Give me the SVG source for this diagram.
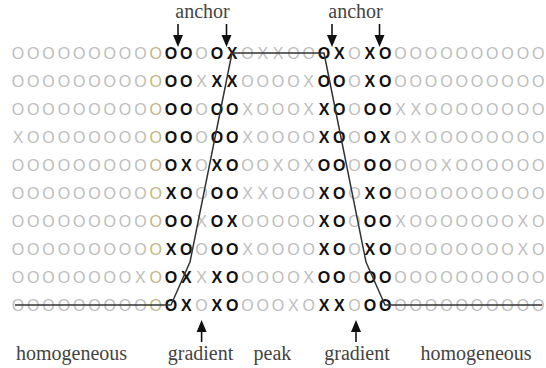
<svg xmlns="http://www.w3.org/2000/svg" width="546" height="368" viewBox="0 0 546 368">
<style>
.g{font-family:"Liberation Sans",Arial,sans-serif;font-size:16px;fill:#bdbdbd;text-anchor:middle}
.t{font-family:"Liberation Sans",Arial,sans-serif;font-size:16px;fill:#c4b586;text-anchor:middle}
.b{font-family:"Liberation Sans",Arial,sans-serif;font-size:16px;font-weight:bold;fill:#111;text-anchor:middle}
.lbl{font-family:"Liberation Serif","Times New Roman",serif;font-size:20px;fill:#444;text-anchor:middle}
.ln{fill:none;stroke:#333;stroke-width:1.5;stroke-linejoin:round}
.ar{stroke:#111;stroke-width:1.6}
.ah{fill:#111}
</style>
<rect width="546" height="368" fill="#fff"/>
<g id="grid">
<g id="row1">
<text class="g" y="58.8" x="18 33.3 48.6 63.9 79.2 94.5 109.8 125.1 140.4">OOOOOOOOO</text>
<text class="t" y="58.8" x="155.7">O</text>
<text class="b" y="58.8" x="171 186.3">OO</text>
<text class="g" y="58.8" x="201.6">O</text>
<text class="b" y="58.8" x="216.9 232.2">OX</text>
<text class="g" y="58.8" x="247.5 262.8 278.1 293.4 308.7">OXXOO</text>
<text class="b" y="58.8" x="324 339.3">OX</text>
<text class="g" y="58.8" x="354.6">O</text>
<text class="b" y="58.8" x="369.9 385.2">XO</text>
<text class="g" y="58.8" x="400.5 415.8 431.1 446.4 461.7 477 492.3 507.6 522.9 538.2">OOOOOOOOOO</text>
</g>
<g id="row2">
<text class="g" y="86.8" x="18 33.3 48.6 63.9 79.2 94.5 109.8 125.1 140.4">OOOOOOOOO</text>
<text class="t" y="86.8" x="155.7">O</text>
<text class="b" y="86.8" x="171 186.3">OO</text>
<text class="g" y="86.8" x="201.6">X</text>
<text class="b" y="86.8" x="216.9 232.2">XX</text>
<text class="g" y="86.8" x="247.5 262.8 278.1 293.4 308.7">OOOOX</text>
<text class="b" y="86.8" x="324 339.3">OO</text>
<text class="g" y="86.8" x="354.6">O</text>
<text class="b" y="86.8" x="369.9 385.2">XO</text>
<text class="g" y="86.8" x="400.5 415.8 431.1 446.4 461.7 477 492.3 507.6 522.9 538.2">OOOOOOOOOO</text>
</g>
<g id="row3">
<text class="g" y="114.8" x="18 33.3 48.6 63.9 79.2 94.5 109.8 125.1 140.4">OOOOOOOOO</text>
<text class="t" y="114.8" x="155.7">O</text>
<text class="b" y="114.8" x="171 186.3">OO</text>
<text class="g" y="114.8" x="201.6">O</text>
<text class="b" y="114.8" x="216.9 232.2">OO</text>
<text class="g" y="114.8" x="247.5 262.8 278.1 293.4 308.7">XOOOX</text>
<text class="b" y="114.8" x="324 339.3">XO</text>
<text class="g" y="114.8" x="354.6">O</text>
<text class="b" y="114.8" x="369.9 385.2">OO</text>
<text class="g" y="114.8" x="400.5 415.8 431.1 446.4 461.7 477 492.3 507.6 522.9 538.2">XXOOOOOOOO</text>
</g>
<g id="row4">
<text class="g" y="142.8" x="18 33.3 48.6 63.9 79.2 94.5 109.8 125.1 140.4">XOOOOOOOO</text>
<text class="t" y="142.8" x="155.7">O</text>
<text class="b" y="142.8" x="171 186.3">OO</text>
<text class="g" y="142.8" x="201.6">O</text>
<text class="b" y="142.8" x="216.9 232.2">OO</text>
<text class="g" y="142.8" x="247.5 262.8 278.1 293.4 308.7">XOOOO</text>
<text class="b" y="142.8" x="324 339.3">XO</text>
<text class="g" y="142.8" x="354.6">O</text>
<text class="b" y="142.8" x="369.9 385.2">OX</text>
<text class="g" y="142.8" x="400.5 415.8 431.1 446.4 461.7 477 492.3 507.6 522.9 538.2">OXOOOOOOOO</text>
</g>
<g id="row5">
<text class="g" y="170.8" x="18 33.3 48.6 63.9 79.2 94.5 109.8 125.1 140.4">OOOOOOOOO</text>
<text class="t" y="170.8" x="155.7">O</text>
<text class="b" y="170.8" x="171 186.3">OX</text>
<text class="g" y="170.8" x="201.6">O</text>
<text class="b" y="170.8" x="216.9 232.2">XO</text>
<text class="g" y="170.8" x="247.5 262.8 278.1 293.4 308.7">OOXOX</text>
<text class="b" y="170.8" x="324 339.3">OO</text>
<text class="g" y="170.8" x="354.6">O</text>
<text class="b" y="170.8" x="369.9 385.2">OO</text>
<text class="g" y="170.8" x="400.5 415.8 431.1 446.4 461.7 477 492.3 507.6 522.9 538.2">OOOXOOOOOO</text>
</g>
<g id="row6">
<text class="g" y="198.8" x="18 33.3 48.6 63.9 79.2 94.5 109.8 125.1 140.4">OOOOOOOOO</text>
<text class="t" y="198.8" x="155.7">O</text>
<text class="b" y="198.8" x="171 186.3">XO</text>
<text class="g" y="198.8" x="201.6">O</text>
<text class="b" y="198.8" x="216.9 232.2">OO</text>
<text class="g" y="198.8" x="247.5 262.8 278.1 293.4 308.7">XXOOO</text>
<text class="b" y="198.8" x="324 339.3">XO</text>
<text class="g" y="198.8" x="354.6">O</text>
<text class="b" y="198.8" x="369.9 385.2">XO</text>
<text class="g" y="198.8" x="400.5 415.8 431.1 446.4 461.7 477 492.3 507.6 522.9 538.2">OOOOOOOOOO</text>
</g>
<g id="row7">
<text class="g" y="226.8" x="18 33.3 48.6 63.9 79.2 94.5 109.8 125.1 140.4">OOOOOOOOO</text>
<text class="t" y="226.8" x="155.7">O</text>
<text class="b" y="226.8" x="171 186.3">OO</text>
<text class="g" y="226.8" x="201.6">X</text>
<text class="b" y="226.8" x="216.9 232.2">OX</text>
<text class="g" y="226.8" x="247.5 262.8 278.1 293.4 308.7">OOOOO</text>
<text class="b" y="226.8" x="324 339.3">XO</text>
<text class="g" y="226.8" x="354.6">O</text>
<text class="b" y="226.8" x="369.9 385.2">OO</text>
<text class="g" y="226.8" x="400.5 415.8 431.1 446.4 461.7 477 492.3 507.6 522.9 538.2">XOOOOOOOXO</text>
</g>
<g id="row8">
<text class="g" y="254.8" x="18 33.3 48.6 63.9 79.2 94.5 109.8 125.1 140.4">OOOOOOOOO</text>
<text class="t" y="254.8" x="155.7">O</text>
<text class="b" y="254.8" x="171 186.3">XO</text>
<text class="g" y="254.8" x="201.6">O</text>
<text class="b" y="254.8" x="216.9 232.2">OO</text>
<text class="g" y="254.8" x="247.5 262.8 278.1 293.4 308.7">XOOOO</text>
<text class="b" y="254.8" x="324 339.3">XO</text>
<text class="g" y="254.8" x="354.6">O</text>
<text class="b" y="254.8" x="369.9 385.2">XO</text>
<text class="g" y="254.8" x="400.5 415.8 431.1 446.4 461.7 477 492.3 507.6 522.9 538.2">OOOOOOOOXO</text>
</g>
<g id="row9">
<text class="g" y="282.8" x="18 33.3 48.6 63.9 79.2 94.5 109.8 125.1 140.4">OOOOOOOOX</text>
<text class="t" y="282.8" x="155.7">O</text>
<text class="b" y="282.8" x="171 186.3">OX</text>
<text class="g" y="282.8" x="201.6">X</text>
<text class="b" y="282.8" x="216.9 232.2">XO</text>
<text class="g" y="282.8" x="247.5 262.8 278.1 293.4 308.7">OOOOX</text>
<text class="b" y="282.8" x="324 339.3">OO</text>
<text class="g" y="282.8" x="354.6">O</text>
<text class="b" y="282.8" x="369.9 385.2">OO</text>
<text class="g" y="282.8" x="400.5 415.8 431.1 446.4 461.7 477 492.3 507.6 522.9 538.2">OOOOOOOOOO</text>
</g>
<g id="row10">
<text class="g" y="310.8" x="18 33.3 48.6 63.9 79.2 94.5 109.8 125.1 140.4">OOOOOOOOO</text>
<text class="t" y="310.8" x="155.7">O</text>
<text class="b" y="310.8" x="171 186.3">OX</text>
<text class="g" y="310.8" x="201.6">O</text>
<text class="b" y="310.8" x="216.9 232.2">XO</text>
<text class="g" y="310.8" x="247.5 262.8 278.1 293.4 308.7">OOOXO</text>
<text class="b" y="310.8" x="324 339.3">XX</text>
<text class="g" y="310.8" x="354.6">O</text>
<text class="b" y="310.8" x="369.9 385.2">OO</text>
<text class="g" y="310.8" x="400.5 415.8 431.1 446.4 461.7 477 492.3 507.6 522.9 538.2">OOOOOOOOOO</text>
</g>
</g>
<g id="connectors">
<polyline class="ln" points="15,305 171,305 190,262 232,53 324,53 366,262 385,305 542,305"/>
<g id="anchor-arrows">
<line class="ar" x1="178" y1="24" x2="178" y2="37"/><polygon class="ah" points="173,35 183,35 178,47"/>
<line class="ar" x1="226.5" y1="24" x2="226.5" y2="37"/><polygon class="ah" points="221.5,35 231.5,35 226.5,47"/>
<line class="ar" x1="332" y1="24" x2="332" y2="37"/><polygon class="ah" points="327,35 337,35 332,47"/>
<line class="ar" x1="379.5" y1="24" x2="379.5" y2="37"/><polygon class="ah" points="374.5,35 384.5,35 379.5,47"/>
</g>
<g id="gradient-arrows">
<line class="ar" x1="201.6" y1="330" x2="201.6" y2="342"/><polygon class="ah" points="196.6,332 206.6,332 201.6,320"/>
<line class="ar" x1="356" y1="330" x2="356" y2="342"/><polygon class="ah" points="351,332 361,332 356,320"/>
</g>
</g>
<g id="labels">
<text class="lbl" x="202.5" y="18">anchor</text>
<text class="lbl" x="355.5" y="18">anchor</text>
<text class="lbl" x="71.5" y="360">homogeneous</text>
<text class="lbl" x="200.5" y="360">gradient</text>
<text class="lbl" x="272.5" y="360">peak</text>
<text class="lbl" x="357" y="360">gradient</text>
<text class="lbl" x="476" y="360">homogeneous</text>
</g>
</svg>
